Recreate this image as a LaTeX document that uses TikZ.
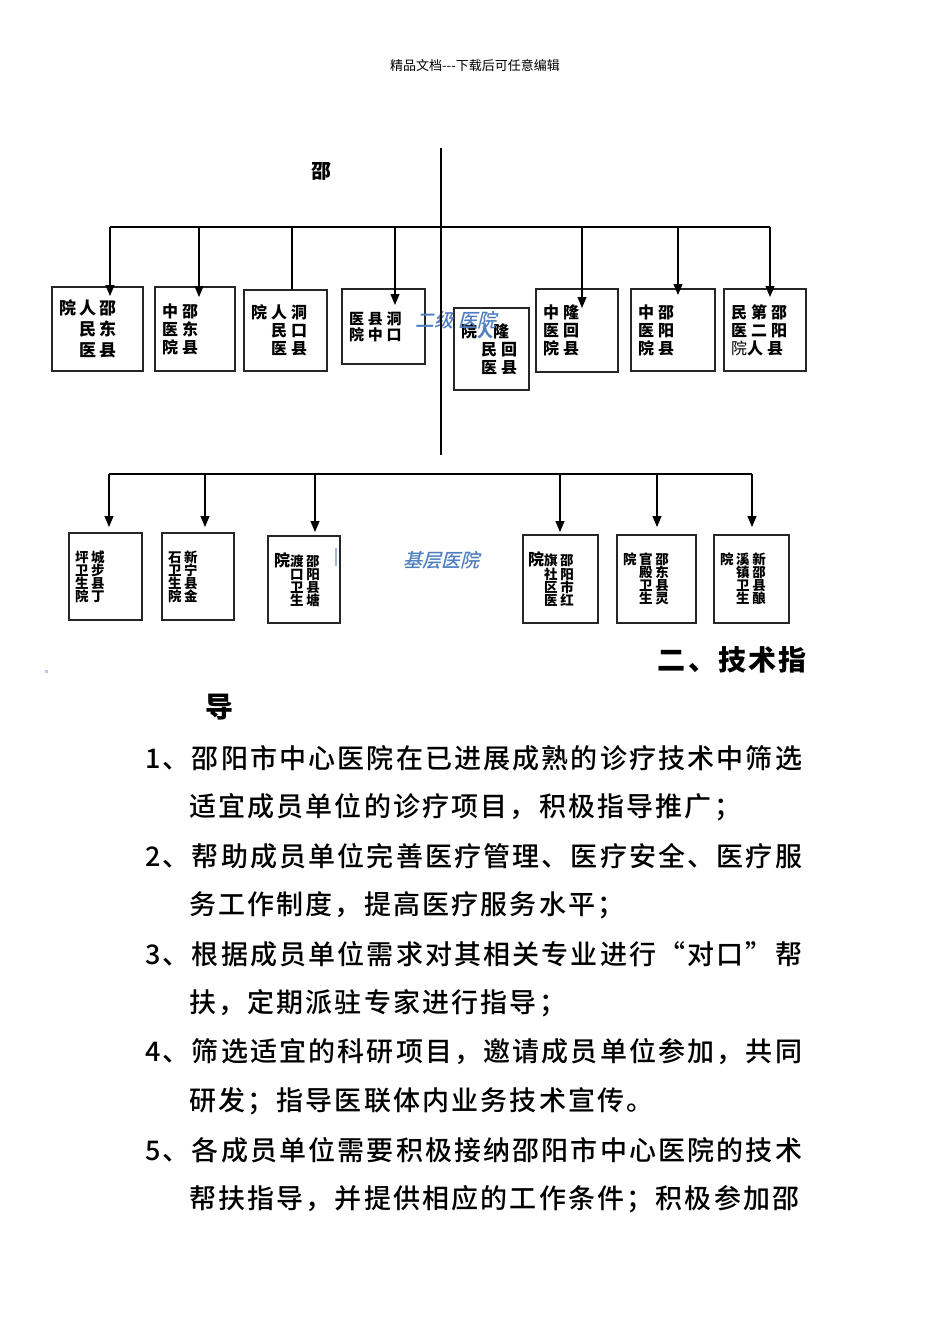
\documentclass[tikz,border=0pt]{standalone}
\usepackage{fontspec}
\setmainfont{Noto Sans CJK SC}
\newfontfamily\cjk{Noto Sans CJK SC}
\newfontfamily\cjkmed{Noto Sans CJK SC Medium}
\newfontfamily\cjkslant[FakeSlant=0.25]{Noto Sans CJK SC Medium}
\usetikzlibrary{arrows.meta}
\definecolor{tagblue}{HTML}{4F7FBF}
\newcommand\headfont{\cjk\fontsize{13}{13}\selectfont}
\newcommand\topfont{\cjk\bfseries\fontsize{16}{18}\selectfont\addfontfeature{LetterSpace=25}}
\newcommand\bigboxfont{\cjk\bfseries\fontsize{17}{21}\selectfont\addfontfeature{LetterSpace=18}}
\newcommand\lowfont{\cjk\bfseries\fontsize{13.5}{13}\selectfont\addfontfeature{LetterSpace=20}}
\newcommand\tagfont{\cjkslant\fontsize{19}{19}\selectfont}
\newcommand\bodyfont{\cjkmed\fontsize{27}{27}\selectfont\addfontfeature{LetterSpace=8}}
\newcommand\titlefont{\cjk\bfseries\fontsize{28}{28}\selectfont\addfontfeature{LetterSpace=8}}

\begin{document}
\begin{tikzpicture}[x=1pt,y=-1pt,
  >={Triangle[width=9pt,length=11pt]},
  hbox/.style={draw=black!85,line width=1.1pt,align=left,inner xsep=7pt,inner ysep=0pt,font=\topfont},
  lbox/.style={hbox,inner xsep=6pt,font=\lowfont},
  link/.style={line width=1.1pt},
  tag/.style={font=\tagfont,text=tagblue,inner sep=0pt},
  para/.style={anchor=west,inner sep=0pt,font=\bodyfont}
]
\useasboundingbox (0,0) rectangle (950,1344);
\node[font=\headfont] (head) at (475,66) {精品文档---下载后可任意编辑};
\node[font=\cjk\bfseries\fontsize{20}{20}\selectfont] (root) at (321,171) {邵};

% second level hospitals
\node[hbox,font=\bigboxfont,text width=77pt,minimum height=84pt] (b1) at (97.5,329) {院人邵\\　民东\\　医县};
\node[hbox,text width=66pt,minimum height=84pt] (b2) at (195,329) {中邵\\医东\\院县};
\node[hbox,text width=69pt,minimum height=81pt] (b3) at (285.5,330.5) {院人洞\\　民口\\　医县};
\node[hbox,text width=69pt,minimum height=75pt,font=\topfont\fontsize{15}{16}\selectfont] (b4) at (383.5,326.5) {医县洞\\院中口\\[14pt]};
\node[hbox,text width=61pt,minimum height=82pt] (b5) at (491.5,349) {院{\color{tagblue}人}隆\\　民回\\　医县};
\node[hbox,text width=68pt,minimum height=83pt] (b6) at (577,330.5) {中隆\\医回\\院县};
\node[hbox,text width=70pt,minimum height=82pt] (b7) at (673,330) {中邵\\医阳\\院县};
\node[hbox,text width=68pt,minimum height=82pt] (b8) at (765,330) {民第邵\\医二阳\\{\mdseries 院}人县};
\node[tag] (lvl2) at (456,320) {二级\hspace{5pt}医院};

% primary hospitals
\node[lbox,text width=61pt,minimum height=87pt] (c1) at (105.5,576.5) {坪城\\卫步\\生县\\院丁};
\node[lbox,text width=60pt,minimum height=87pt] (c2) at (198,576.5) {石新\\卫宁\\生县\\院金};
\node[lbox,text width=60pt,minimum height=87pt] (c3) at (304,579.5) {{\fontsize{16}{13}\selectfont 院}渡邵\\　口阳\\　卫县\\　生塘};
\node[lbox,inner xsep=5pt,text width=65pt,minimum height=88pt] (c4) at (560.5,579) {{\fontsize{16}{13}\selectfont 院}旗邵\\　社阳\\　区市\\　医红};
\node[lbox,text width=67pt,minimum height=88pt] (c5) at (656.5,579) {院官邵\\　殿东\\　卫县\\　生灵};
\node[lbox,text width=63pt,minimum height=88pt] (c6) at (751.5,579) {院溪新\\　镇邵\\　卫县\\　生酿};
\node[tag] (base) at (441,560) {基层医院};
\draw[tagblue!55,line width=1.5pt] (336,548) -- (336,566);
\fill[tagblue!40] (45,670) rectangle (48,673);

% trunk and buses
\coordinate (hubT) at (441,148);
\coordinate (hubB) at (441,455);
\draw[line width=1.8pt] (hubT) -- (hubB);
\coordinate (busL) at (110,227);
\coordinate (busR) at (770,227);
\draw[link] (busL) -- (busR);
\foreach \n/\x/\y in {1/110/296,2/199/297,4/395/305,6/582/308,7/678/295,8/770/297}{
  \coordinate (t\n) at (\x,227);
  \coordinate (e\n) at (\x,\y);
  \draw[link,->] (t\n) -- (e\n);
}
\coordinate (t3) at (292,227);
\draw[link] (t3) -- (t3 |- b3.north);
\coordinate (lowL) at (109,474);
\coordinate (lowR) at (752,474);
\draw[link] (lowL) -- (lowR);
\foreach \n/\x/\y in {1/109/527,2/205/527,3/315/532,4/560/532,5/657/527,6/752/527}{
  \coordinate (s\n) at (\x,474);
  \coordinate (f\n) at (\x,\y);
  \draw[link,->] (s\n) -- (f\n);
}

% section text
\node[anchor=east,inner sep=0pt,font=\titlefont] (sec) at (807,660) {二、技术指};
\node[anchor=west,inner sep=0pt,font=\titlefont] (sec2) at (205,707) {导};
\node[para] (p1) at (145,758) {1、邵阳市中心医院在已进展成熟的诊疗技术中筛选};
\node[para] (p1b) at (189,807) {适宜成员单位的诊疗项目，积极指导推广；};
\node[para] (p2) at (145,856) {2、帮助成员单位完善医疗管理、医疗安全、医疗服};
\node[para] (p2b) at (189,905) {务工作制度，提高医疗服务水平；};
\node[para] (p3) at (145,954) {3、根据成员单位需求对其相关专业进行“对口”帮};
\node[para] (p3b) at (189,1003) {扶，定期派驻专家进行指导；};
\node[para] (p4) at (145,1052) {4、筛选适宜的科研项目，邀请成员单位参加，共同};
\node[para] (p4b) at (189,1101) {研发；指导医联体内业务技术宣传。};
\node[para] (p5) at (145,1150) {5、各成员单位需要积极接纳邵阳市中心医院的技术};
\node[para] (p5b) at (189,1199) {帮扶指导，并提供相应的工作条件；积极参加邵};
\end{tikzpicture}
\end{document}
